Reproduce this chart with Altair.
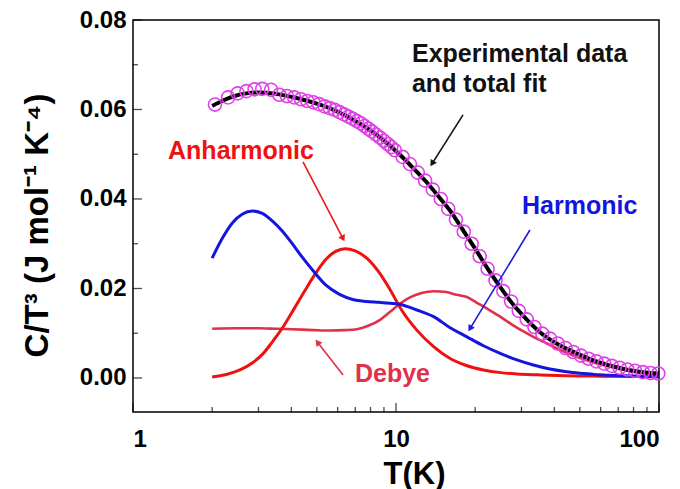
import altair as alt
import pandas as pd

FONT = "Liberation Sans"

# ---------------- data ----------------
exp_T = [2.05, 2.3, 2.5, 2.7, 2.9, 3.1, 3.35, 3.6, 3.85, 4.1, 4.35, 4.6, 4.85, 5.1,
         5.35, 5.6, 5.85, 6.1, 6.35, 6.6, 6.85, 7.1, 7.35, 7.6, 7.85, 8.1, 8.4, 8.7,
         9.0, 9.3, 9.6, 9.9, 10.6, 11.3, 12.1, 12.9, 13.8, 14.8, 15.8, 16.9, 18.1,
         19.4, 20.8, 22.3, 23.9, 25.6, 27.4, 29.3, 31.4, 33.6, 36.0, 38.5, 41.2,
         44.1, 47.2, 50.5, 54.0, 57.8, 61.9, 66.2, 70.8, 75.8, 81.1, 86.8, 92.9, 99.4]
exp_C = [0.0611, 0.0627, 0.0636, 0.0641, 0.0645, 0.0646, 0.0644, 0.0633, 0.0630, 0.0627,
         0.0623, 0.0619, 0.0616, 0.0612, 0.0607, 0.0603, 0.0599, 0.0594, 0.0589, 0.0584,
         0.0579, 0.0574, 0.0569, 0.0563, 0.0557, 0.0551, 0.0544, 0.0537, 0.0530, 0.0523,
         0.0516, 0.0509, 0.0494, 0.0478, 0.0459, 0.0441, 0.0421, 0.0400, 0.0378, 0.0354,
         0.0327, 0.0300, 0.0272, 0.0244, 0.0218, 0.0194, 0.0171, 0.0150, 0.0131, 0.0114,
         0.0099, 0.0088, 0.0077, 0.0067, 0.0058, 0.0050, 0.0043, 0.0037, 0.0032, 0.0027,
         0.0023, 0.0019, 0.0016, 0.0013, 0.0011, 0.0010]

fit_T = [2.0, 2.2, 2.4, 2.7, 3.0, 3.4, 3.8, 4.3, 5.0, 5.7, 6.5, 7.3, 8.2, 9.2, 10.3,
         11.5, 13.0, 14.5, 16.0, 18.0, 20.0, 22.5, 25.0, 28.0, 31.5, 35.0, 40.0, 45.0,
         50.0, 57.0, 65.0, 75.0, 87.0, 100.0]
fit_C = [0.0608, 0.0620, 0.0629, 0.0636, 0.0638, 0.0636, 0.0631, 0.0624, 0.0613, 0.0601,
         0.0585, 0.0568, 0.0549, 0.0526, 0.0500, 0.0472, 0.0439, 0.0406, 0.0375, 0.0330,
         0.0289, 0.0241, 0.0202, 0.0163, 0.0130, 0.0104, 0.0080, 0.0064, 0.0052, 0.0038,
         0.0028, 0.0019, 0.0013, 0.0010]

harm_T = [2.0, 2.2, 2.4, 2.6, 2.85, 3.1, 3.4, 3.7, 4.0, 4.4, 4.85, 5.4, 6.1, 6.9, 7.7,
          8.6, 9.5, 10.3, 12.0, 13.9, 16.0, 18.6, 21.5, 24.9, 29.0, 33.3, 38.5, 44.5,
          52.0, 59.5, 75.0, 100.0]
harm_C = [0.0268, 0.0315, 0.0348, 0.0366, 0.0373, 0.0368, 0.0350, 0.0328, 0.0303, 0.0270,
          0.0239, 0.0208, 0.0187, 0.0175, 0.0171, 0.0169, 0.0167, 0.0165, 0.0152, 0.0137,
          0.0113, 0.0092, 0.0072, 0.0055, 0.0040, 0.0029, 0.0020, 0.0014, 0.0010, 0.0007,
          0.0005, 0.0003]

anh_T = [2.0, 2.3, 2.55, 2.85, 3.13, 3.4, 3.73, 4.1, 4.5, 4.85, 5.45, 5.9, 6.4, 7.0,
         7.74, 8.6, 9.5, 10.5, 12.0, 13.9, 16.0, 18.5, 21.5, 25.0, 28.8, 35.0, 44.5,
         60.0, 100.0]
anh_C = [0.0002, 0.0009, 0.0018, 0.0034, 0.0055, 0.0082, 0.0115, 0.0155, 0.0195, 0.0226,
         0.0267, 0.0283, 0.0289, 0.0284, 0.0268, 0.0237, 0.0197, 0.0152, 0.0107, 0.0070,
         0.0044, 0.0028, 0.0018, 0.0012, 0.0009, 0.0007, 0.0005, 0.0004, 0.0003]

deb_T = [2.0, 2.5, 3.0, 3.5, 4.0, 4.85, 5.6, 6.4, 7.1, 7.8, 8.7, 9.5, 10.3, 11.3, 12.5,
         13.9, 15.5, 17.0, 18.6, 20.3, 22.5, 24.9, 28.5, 33.3, 37.5, 42.0, 47.0, 52.8,
         60.0, 69.0, 80.0, 100.0]
deb_C = [0.0110, 0.0111, 0.0111, 0.0110, 0.0109, 0.0107, 0.0106, 0.0107, 0.0109, 0.0116,
         0.0130, 0.0148, 0.0165, 0.0180, 0.0190, 0.0194, 0.0192, 0.0186, 0.0181, 0.0168,
         0.0153, 0.0137, 0.0114, 0.0092, 0.0077, 0.0063, 0.0051, 0.0040, 0.0030, 0.0022,
         0.0014, 0.0007]

x_ticks_major = [1, 10, 100]
x_ticks_minor = [2, 3, 4, 5, 6, 7, 8, 9, 20, 30, 40, 50, 60, 70, 80, 90]
y_ticks_major = [0.0, 0.02, 0.04, 0.06, 0.08]
y_ticks_minor = [0.01, 0.03, 0.05, 0.07]

ann_T = [11.5, 11.5, 1.359, 30.14, 6.98]
ann_C = [0.07061, 0.06391, 0.04894, 0.03665, -0.00089]
ann_text = ["Experimental data", "and total fit", "Anharmonic", "Harmonic", "Debye"]
ann_color = ["#111111", "#111111", "#EE1111", "#1515E0", "#E0304A"]

arr_T0 = [17.98, 4.43, 32.3, 6.29]
arr_C0 = [0.0588, 0.04827, 0.03307, 0.00067]
arr_T1 = [13.72, 6.29, 19.12, 5.03]
arr_C1 = [0.04791, 0.03117, 0.01104, 0.0080]
arr_angle = [212.4, 152.3, 211.3, 322.1]
arr_color = ["#111111", "#E51A1A", "#1A1AE0", "#E0304A"]

# ---------------- chart ----------------
W, H = 526, 392
xs = alt.Scale(type="log", domain=[1, 100])
ys = alt.Scale(domain=[-0.0076, 0.08], nice=False, zero=False)

x_axis = alt.Axis(values=x_ticks_major, format="~g", title="T(K)",
                  titleFontSize=31, titleX=281, titleY=71, titleBaseline="alphabetic",
                  titleAlign="center", labelPadding=15)
y_axis = alt.Axis(values=y_ticks_major, format=".2f", title="C/T³ (J mol⁻¹ K⁻⁴)",
                  titleFontSize=33, titleX=-86, titleY=205, titleBaseline="alphabetic",
                  titleAlign="center", labelPadding=7)


def X(field):
    return alt.X(field, type="quantitative", scale=xs, axis=x_axis)


def Y(field):
    return alt.Y(field, type="quantitative", scale=ys, axis=y_axis)


def curve(T, C, color, width):
    df = pd.DataFrame({"T": T, "C": C})
    return alt.Chart(df).mark_line(color=color, strokeWidth=width, interpolate="monotone").encode(
        x=X("T"), y=Y("C"))


deb = curve(deb_T, deb_C, "#E0304A", 2.6)
anh = curve(anh_T, anh_C, "#EE1111", 3)
harm = curve(harm_T, harm_C, "#1515E0", 3)
fit = curve(fit_T, fit_C, "#000000", 4)

exp = alt.Chart(pd.DataFrame({"T": exp_T, "C": exp_C})).mark_point(
    shape="circle", filled=False, color="#E040E8", size=170, strokeWidth=1.6, opacity=1
).encode(x=X("T"), y=Y("C"))

# inward ticks
xt_major = alt.Chart(pd.DataFrame({"T": x_ticks_major})).mark_tick(
    orient="vertical", size=9, thickness=1.3, color="black", yOffset=-4.5
).encode(x=X("T"), y=alt.value(H))
xt_minor = alt.Chart(pd.DataFrame({"T": x_ticks_minor})).mark_tick(
    orient="vertical", size=5, thickness=1.3, color="black", yOffset=-2.5
).encode(x=X("T"), y=alt.value(H))
yt_major = alt.Chart(pd.DataFrame({"C": y_ticks_major})).mark_tick(
    orient="horizontal", size=9, thickness=1.3, color="black", xOffset=4.5
).encode(y=Y("C"), x=alt.value(0))
yt_minor = alt.Chart(pd.DataFrame({"C": y_ticks_minor})).mark_tick(
    orient="horizontal", size=5, thickness=1.3, color="black", xOffset=2.5
).encode(y=Y("C"), x=alt.value(0))

ann_df = pd.DataFrame({"T": ann_T, "C": ann_C, "label": ann_text, "color": ann_color})
texts = alt.Chart(ann_df).mark_text(
    align="left", baseline="alphabetic", font=FONT, fontSize=25, fontWeight="bold"
).encode(x=X("T"), y=Y("C"), text="label:N", color=alt.Color("color:N", scale=None))

arr_df = pd.DataFrame({"T0": arr_T0, "C0": arr_C0, "T1": arr_T1, "C1": arr_C1,
                       "ang": arr_angle, "color": arr_color})
arr_lines = alt.Chart(arr_df).mark_rule(strokeWidth=1.6).encode(
    x=X("T0"), y=Y("C0"), x2="T1:Q", y2="C1:Q", color=alt.Color("color:N", scale=None))
arr_heads = alt.Chart(arr_df).mark_point(shape="triangle-up", filled=True, size=55, opacity=1).encode(
    x=X("T1"), y=Y("C1"), angle=alt.Angle("ang:Q", scale=None),
    color=alt.Color("color:N", scale=None))

chart = alt.layer(
    deb, anh, harm, fit, exp, xt_major, xt_minor, yt_major, yt_minor, arr_lines, arr_heads, texts
).properties(
    width=W, height=H,
    autosize=alt.AutoSizeParams(type="none"),
    padding={"left": 133, "top": 20, "right": 21, "bottom": 77},
    background="white",
).configure_view(
    stroke="black", strokeWidth=1.5
).configure_axis(
    domain=False, ticks=False, tickSize=0, grid=False,
    labelFont=FONT, labelFontSize=24, labelFontWeight="bold", labelColor="black",
    titleFont=FONT, titleFontWeight="bold", titleColor="black",
)

chart.save("out.html", embed_options={"renderer": "svg", "actions": False})
